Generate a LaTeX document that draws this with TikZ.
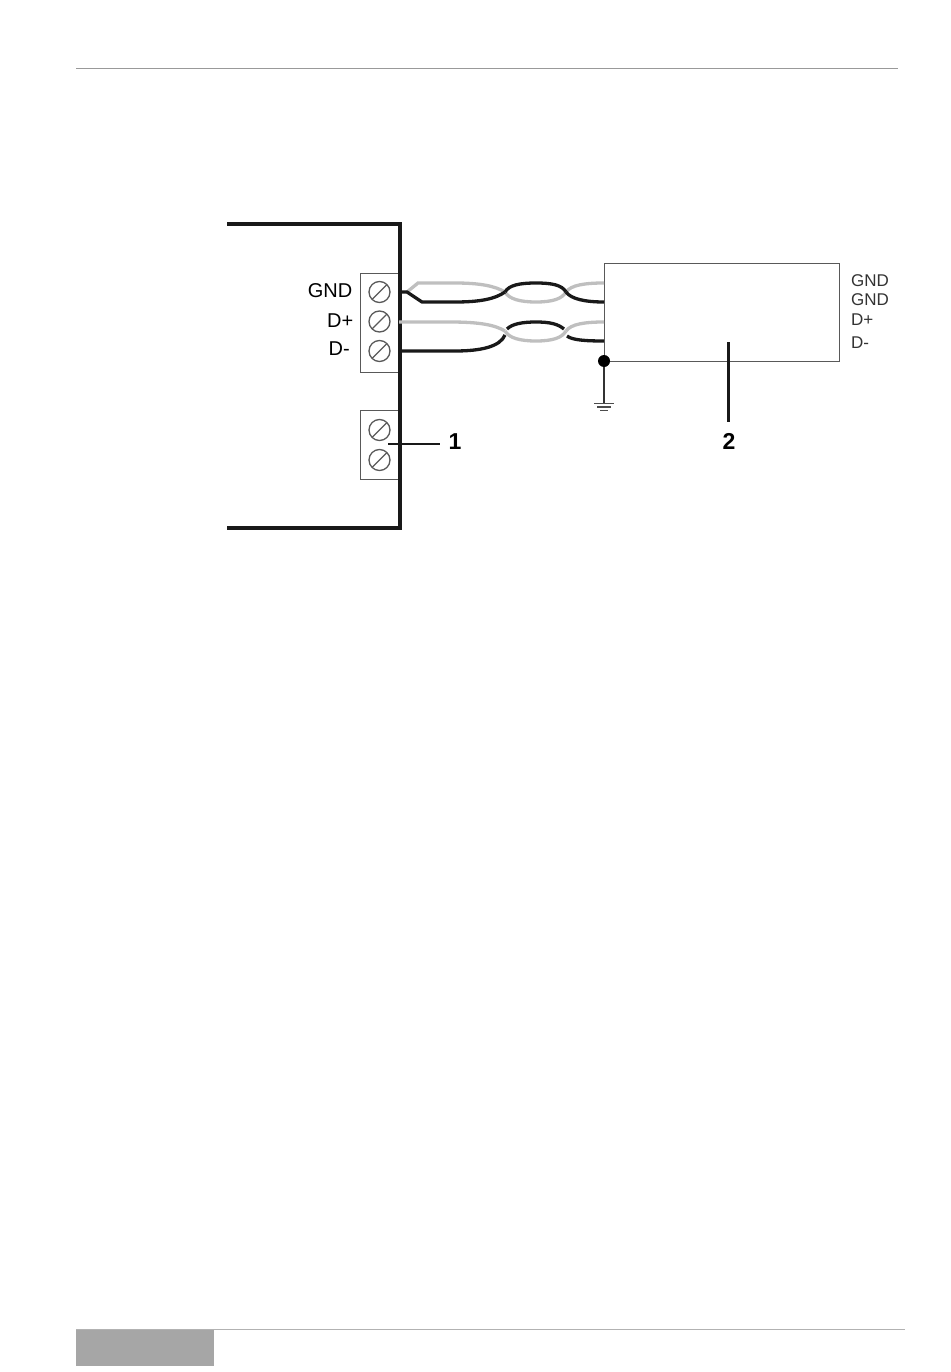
\documentclass[tikz,border=0pt]{standalone}
\usepackage{fontspec}
\setmainfont{Liberation Sans}
\usetikzlibrary{positioning}
\tikzset{
block/.style={
    draw=black!65,
    line width=1.4pt,
    minimum width=39pt,
    inner sep=0pt
},
screw/.style={
    circle,
    draw=black!65,
    line width=1.3pt,
    minimum size=21pt,
    inner sep=0pt,
    path picture={\draw[black!65,line width=1.3pt] (path picture bounding box.south west) ++(3pt,3pt) -- ++(15pt,15pt);}
},
pin/.style={font=\fontsize{20}{20}\selectfont, inner sep=0pt, anchor=east},
devpin/.style={font=\fontsize{17}{17}\selectfont, text=black!80, inner sep=0pt, anchor=west},
callout/.style={font=\fontsize{23}{23}\selectfont\bfseries, inner sep=0pt},
blackwire/.style={line width=3.3pt, black!90},
graywire/.style={line width=3.3pt, black!25},
leader/.style={line width=2.3pt, black!90}
}

\begin{document}
\begin{tikzpicture}[x=1pt,y=-1pt]
\useasboundingbox (0,0) rectangle (950,1372);
% page rules
\coordinate (headL) at (76,69);
\coordinate (headR) at (898,69);
\coordinate (footL) at (76,1329.5);
\coordinate (footR) at (905,1329.5);
\draw[black!40,line width=1pt] (headL) -- (headR);
\node[fill=black!35,minimum width=138pt,minimum height=36pt,inner sep=0pt,anchor=north west] (tab) at (76,1330) {};
\draw[black!30,line width=1.2pt] (footL) -- (footR);

% terminal blocks
\node[block,minimum height=99pt,anchor=north west] (blockA) at (360,273) {};
\node[block,minimum height=69pt,anchor=north west] (blockB) at (360,410) {};
\foreach \name/\ypos in {gnd/292,dp/321.5,dm/351,auxa/430,auxb/460}
    \node[screw] (\name) at (379.5,\ypos) {};

% unit outline
\coordinate (topL) at (227,224);
\coordinate (topR) at (400,224);
\coordinate (botR) at (400,528);
\coordinate (botL) at (227,528);
\draw[line width=3.4pt,black!90,line join=miter] (topL) -- (topR) -- (botR) -- (botL);

% left labels
\node[pin] (lblgnd) at (352.5,291) {GND};
\node[pin] (lbldp) at (353.5,321) {D+};
\node[pin] (lbldm) at (350,349) {D-};

% device
\node[draw=black!65,line width=1.4pt,minimum width=235pt,minimum height=98pt,inner sep=0pt,anchor=north west] (device) at (604,263) {};
\node[devpin] (pina) at (851,281) {GND};
\node[devpin] (pinb) at (851,300) {GND};
\node[devpin] (pinc) at (851,320) {D+};
\node[devpin] (pind) at (851,343) {D-};

% first pair
\coordinate (g0) at (399,292);
\coordinate (g1) at (407,292);
\coordinate (xa) at (505,292);
\coordinate (xb) at (566,292);
\draw[graywire] (g1) -- (418,283) -- (455,283) .. controls (480,283) and (495,286) .. (xa);
\draw[graywire] (xa) .. controls (509,299) and (520,302) .. (536,302) .. controls (552,302) and (562,299) .. (xb);
\draw[graywire] (xb) .. controls (571,285) and (585,283) .. (604,283);
\draw[blackwire] (g0) -- (g1) -- (422,302) -- (455,302) .. controls (480,302) and (495,299) .. (xa);
\draw[blackwire] (xa) .. controls (509,285) and (520,283) .. (536,283) .. controls (552,283) and (562,285) .. (xb);
\draw[blackwire] (xb) .. controls (571,299) and (585,302) .. (604,302);

% second pair
\coordinate (ya) at (505,331);
\coordinate (yb) at (566,331);
\draw[graywire] (399,322) -- (450,322) .. controls (480,322) and (495,325) .. (ya);
\draw[graywire] (ya) .. controls (509,338) and (520,341) .. (536,341) .. controls (552,341) and (562,338) .. (yb);
\draw[graywire] (yb) .. controls (571,324) and (585,322) .. (604,322);
\draw[blackwire] (399,351) -- (455,351) .. controls (480,351) and (500,347) .. (505,335);
\draw[blackwire] (507,329) .. controls (512,324) and (522,322) .. (536,322) .. controls (550,322) and (558,324) .. (564,329);
\draw[blackwire] (567,336) .. controls (572,340) and (585,341) .. (604,341);

% ground
\node[circle,fill=black,minimum size=12pt,inner sep=0pt] (dot) at (604,361) {};
\coordinate (gndtop) at (604,403.5);
\draw[line width=1.3pt,black!80] (dot) -- (gndtop);
\foreach \ypos/\half in {403.5/10,407/7,410.5/4}
    \draw[line width=1.2pt,black!70] (604-\half,\ypos) -- (604+\half,\ypos);

% callouts
\node[callout] (one) at (455,442) {1};
\node[callout] (two) at (729,441) {2};
\coordinate (oneend) at (388,444);
\coordinate (onetip) at (440,444);
\coordinate (twoend) at (728.5,342);
\coordinate (twotip) at (728.5,422);
\draw[leader] (oneend) -- (onetip);
\draw[leader] (twoend) -- (twotip);
\end{tikzpicture}
\end{document}
